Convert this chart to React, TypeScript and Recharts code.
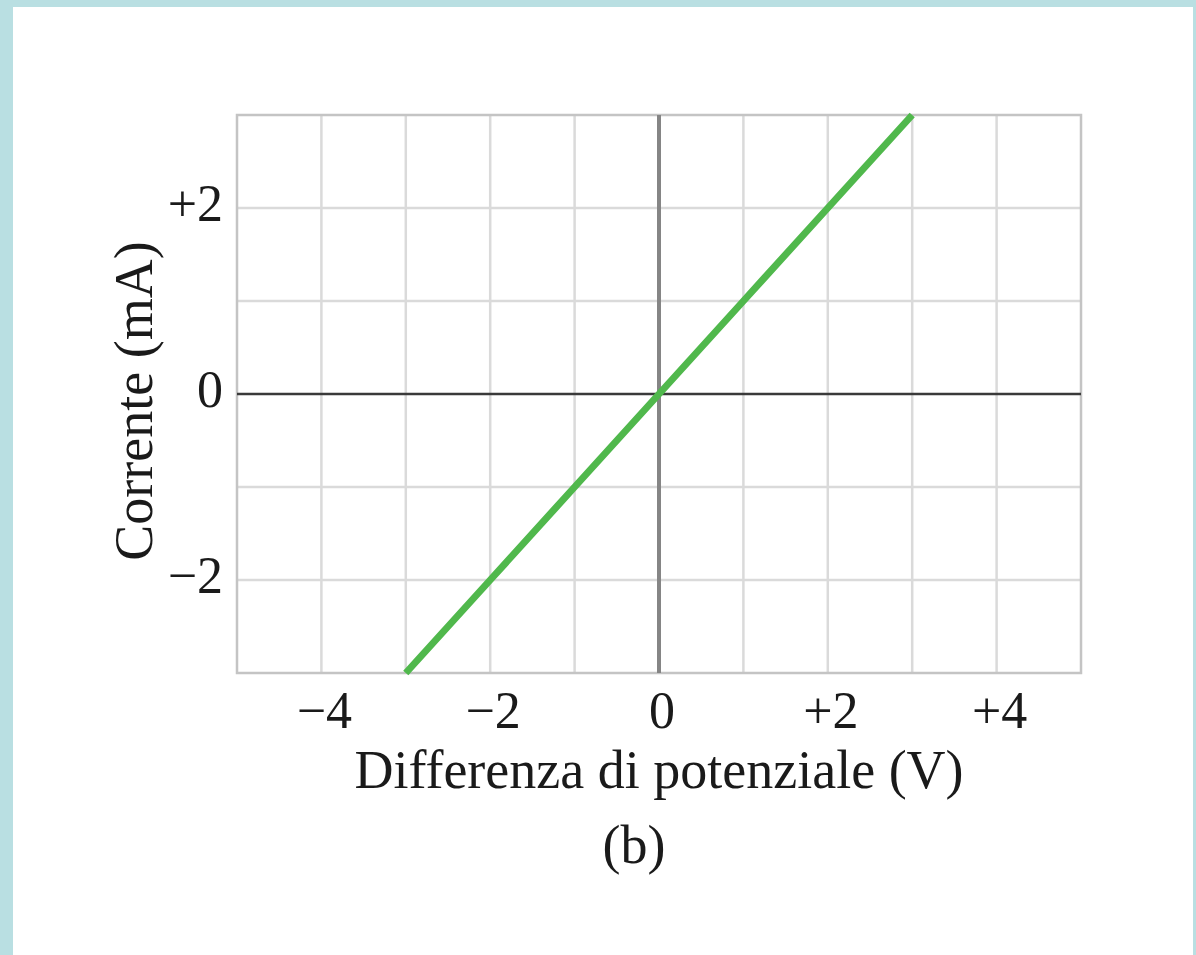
import React from "react";
import {
  LineChart,
  Line,
  XAxis,
  YAxis,
  CartesianGrid,
  ReferenceLine,
  ReferenceArea,
} from "recharts";

// ohmic conductor: current (mA) against potential difference (V)
const voltage = [-3, -2, -1, 0, 1, 2, 3];
const current = [-3, -2, -1, 0, 1, 2, 3];

const xTicks = [-4, -2, 0, 2, 4];
const yTicks = [-2, 0, 2];
const xGrid = [-4, -3, -2, -1, 1, 2, 3, 4];
const yGrid = [-2, -1, 1, 2];

const xTitle = "Differenza di potenziale (V)";
const yTitle = "Corrente (mA)";
const caption = "(b)";

const data = voltage.map((v, idx) => ({ v, i: current[idx] }));

const FONT = '"Liberation Serif", "Times New Roman", serif';
const W = 1196;
const H = 955;

const fmt = (n: number) => (n > 0 ? `+${n}` : n < 0 ? `\u2212${-n}` : "0");

const XTick = (props: any) => {
  const { x, y, payload } = props;
  return (
    <text x={x + 3} y={y} dy={37} textAnchor="middle" fontSize={52} fontFamily={FONT} fill="#1a1a1a">
      {fmt(payload.value)}
    </text>
  );
};

const YTick = (props: any) => {
  const { x, y, payload } = props;
  return (
    <text x={x} y={y} dy={13} textAnchor="end" fontSize={52} fontFamily={FONT} fill="#1a1a1a">
      {fmt(payload.value)}
    </text>
  );
};

const XTitle = (props: any) => {
  const { x, y, width } = props.viewBox;
  return (
    <g fontFamily={FONT} fill="#1a1a1a">
      <text x={x + width / 2} y={y + 115} textAnchor="middle" fontSize={54}>
        {xTitle}
      </text>
      <text x={x + width / 2 - 25} y={y + 190} textAnchor="middle" fontSize={54}>
        {caption}
      </text>
    </g>
  );
};

const YTitle = (props: any) => {
  const { x, y, height } = props.viewBox;
  const cx = x + 152;
  const cy = y + height / 2 + 7;
  return (
    <text
      x={0}
      y={0}
      transform={`translate(${cx}, ${cy}) rotate(-90)`}
      textAnchor="middle"
      fontSize={54}
      fontFamily={FONT}
      fill="#1a1a1a"
    >
      {yTitle}
    </text>
  );
};

export default function App() {
  return (
    <div style={{ position: "absolute", left: 0, top: 0, width: W, height: H, background: "#b9dfe2" }}>
      <div style={{ position: "absolute", left: 13, top: 7, width: 1180, height: 948, background: "#fff" }} />
      <div style={{ position: "absolute", left: 0, top: 0 }}>
        <LineChart width={W} height={H} data={data} margin={{ top: 115, right: 115, bottom: 0, left: 0 }}>
          <CartesianGrid
            verticalValues={xGrid}
            horizontalValues={yGrid}
            stroke="#dadada"
            strokeWidth={2.5}
          />
          <XAxis
            dataKey="v"
            type="number"
            domain={[-5, 5]}
            ticks={xTicks}
            height={282}
            axisLine={false}
            tickLine={false}
            tickSize={0}
            tickMargin={18}
            tick={<XTick />}
            label={<XTitle />}
          />
          <YAxis
            type="number"
            domain={[-3, 3]}
            ticks={yTicks}
            width={237}
            axisLine={false}
            tickLine={false}
            tickSize={0}
            tickMargin={14}
            tick={<YTick />}
            label={<YTitle />}
          />
          <ReferenceArea x1={-5} x2={5} y1={-3} y2={3} fill="none" stroke="#c4c4c4" strokeWidth={2.5} />
          <ReferenceLine x={0} stroke="#858585" strokeWidth={4} />
          <ReferenceLine y={0} stroke="#3a3a3a" strokeWidth={2.5} />
          <Line
            dataKey="i"
            type="linear"
            stroke="#50b84c"
            strokeWidth={7}
            dot={false}
            activeDot={false}
            isAnimationActive={false}
          />
        </LineChart>
      </div>
    </div>
  );
}
